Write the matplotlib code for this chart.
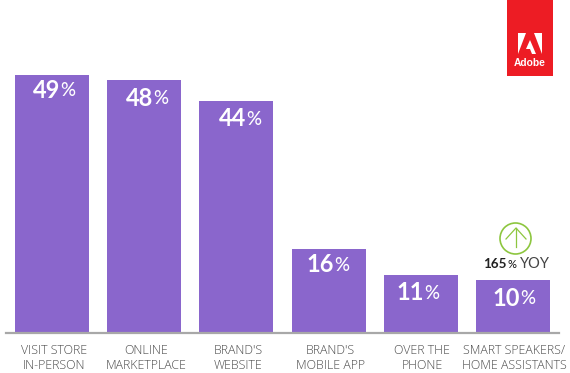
import matplotlib
matplotlib.use("Agg")
import matplotlib.pyplot as plt
from matplotlib.patches import Rectangle, Polygon, Circle
from matplotlib.transforms import Affine2D, ScaledTranslation

categories = ["VISIT STORE\nIN-PERSON", "ONLINE\nMARKETPLACE", "BRAND'S\nWEBSITE",
              "BRAND'S\nMOBILE APP", "OVER THE\nPHONE", "SMART SPEAKERS/\nHOME ASSISTANTS"]
values = [49, 48, 44, 16, 11, 10]
W, H = 570, 373
PURPLE = "#8A66CC"
GREY = "#4D4D4D"
plt.rcParams["font.family"] = ["Lato", "DejaVu Sans"]

fig = plt.figure(figsize=(W/100, H/100), dpi=100)
ax = fig.add_axes([6/W, (H-333)/H, 553/W, 316/H])
ax.bar(range(len(values)), values, width=0.803, color=PURPLE, zorder=2)
ax.set_xlim(-0.5, 5.5)
ax.set_ylim(0, 60)
ax.set_yticks([])
ax.set_xticks(range(len(values)))
ax.set_xticklabels(categories, fontsize=8.9, color=GREY, linespacing=1.17,
                   family=["Open Sans", "DejaVu Sans"], fontweight="light")
ax.tick_params(axis="x", length=0, pad=8)
for lab in ax.get_xticklabels():
    lab.set_transform(lab.get_transform() + ScaledTranslation(1.5/100, 0, fig.dpi_scale_trans))
for s in ["top", "left", "right"]:
    ax.spines[s].set_visible(False)
ax.spines["bottom"].set_color("#A8A8A8")
ax.spines["bottom"].set_linewidth(1.6)
ax.patch.set_alpha(0)

# pixel-space transform (y downward)
px = Affine2D().scale(1/W, -1/H).translate(0, 1) + fig.transFigure

offsets = [(60, 90), (153, 98), (246, 119), (334, 265), (424, 293), (520, 298)]
for v, (x, y) in zip(values, offsets):
    fig.text(x, y, str(v), transform=px, color="white", fontsize=17, fontweight="bold",
             ha="right", va="center")
    fig.text(x, y + 0.5, "%", transform=px, color="white", fontsize=13.5, fontweight="medium",
             ha="left", va="center")

# callout
GREEN = "#8DC63F"
fig.add_artist(Circle((515.5, 238.5), 15.5, transform=px, fill=False, ec=GREEN, lw=1.2))
fig.add_artist(plt.Line2D([516, 516], [228, 247], transform=px, color=GREEN, lw=0.9))
fig.add_artist(plt.Line2D([506, 516, 526], [239, 228, 239], transform=px, color=GREEN, lw=0.9))
fig.text(507, 264, "165", transform=px, color="#222222", fontsize=9.6, fontweight="bold", ha="right", va="center")
fig.text(507, 264.5, "%", transform=px, color="#222222", fontsize=8, fontweight="medium", ha="left", va="center")
fig.text(520, 264, "YOY", transform=px, color="#444444", fontsize=10.5, ha="left", va="center")

# logo
fig.add_artist(Rectangle((507, 0), 46, 76, transform=px, fc="#ED1C24", ec="none"))
fig.add_artist(Polygon([(518, 33), (526, 33), (518, 54)], transform=px, fc="white", ec="none"))
fig.add_artist(Polygon([(534, 33), (542, 33), (542, 54)], transform=px, fc="white", ec="none"))
fig.add_artist(Polygon([(530, 40), (536, 54), (532, 54), (530, 49), (526, 49)], transform=px, fc="white", ec="none"))
fig.text(530, 62.5, "Adobe", transform=px, color="white", fontsize=7.4, fontweight="bold", ha="center", va="center",
         family=["Liberation Sans Narrow", "Liberation Sans"])

fig.savefig("out.png", dpi=100)
